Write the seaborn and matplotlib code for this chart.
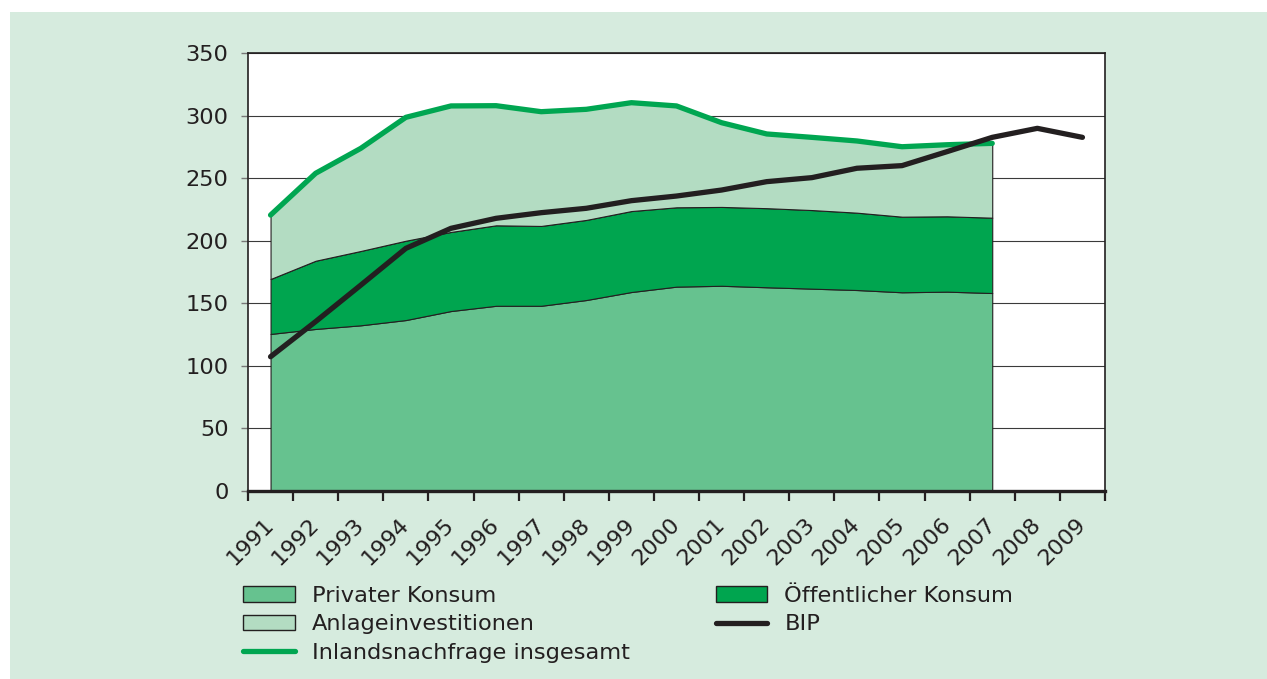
import numpy as np
import pandas as pd
import matplotlib
matplotlib.use("Agg")
import matplotlib.pyplot as plt
import matplotlib.transforms as mtransforms
from matplotlib.patches import Patch, Rectangle
from matplotlib.lines import Line2D
import seaborn as sns

# data (index values)
years = list(range(1991, 2010))
privat = [125.5, 129.5, 132.4, 136.6, 143.8, 148.0, 148.0, 152.6, 159.0,
          163.3, 164.0, 162.8, 161.7, 160.6, 158.8, 159.3, 158.2]
oeffentlich = [43.9, 54.5, 59.4, 63.4, 63.2, 64.3, 63.8, 64.0, 64.7,
               63.4, 63.0, 63.2, 62.8, 61.8, 60.4, 60.2, 60.2]
anlage = [51.1, 69.9, 82.0, 98.6, 100.7, 95.6, 91.3, 88.4, 86.6,
          81.0, 67.3, 59.3, 58.1, 57.3, 55.9, 57.2, 59.4]
bip = [107.3, 135.4, 164.5, 193.9, 209.9, 217.9, 222.4, 225.9, 232.0, 235.7,
       240.5, 247.2, 250.4, 257.9, 260.0, 271.2, 282.6, 289.8, 282.6]

labels = ["Privater Konsum", "Anlageinvestitionen", "Inlandsnachfrage insgesamt",
          "Öffentlicher Konsum", "BIP"]

c_bg = "#d6ebde"
c_priv = "#66c28f"
c_oeff = "#00a54f"
c_anl = "#b3dcc2"
c_line = "#00a651"
c_dark = "#231f20"

sns.set_theme(style="white")
plt.rcParams["font.family"] = ["DejaVu Sans"]

df = pd.DataFrame({"pos": np.arange(len(privat)), "privat": privat,
                   "oeff": oeffentlich, "anlage": anlage})
df["s1"] = df["privat"]
df["s2"] = df["s1"] + df["oeff"]
df["s3"] = df["s2"] + df["anlage"]
df_bip = pd.DataFrame({"pos": np.arange(len(bip)), "bip": bip})

fig = plt.figure(figsize=(12.67, 6.79), dpi=100, facecolor="white")
fig.patches.append(Rectangle((10 / 1267, 0), 1, 1 - 12 / 679, transform=fig.transFigure,
                             facecolor=c_bg, edgecolor="none", zorder=-10))
ax = fig.add_axes([248 / 1267, 1 - 491 / 679, (1105 - 248) / 1267, (491 - 53) / 679])
ax.set_facecolor("white")
ax.set_axisbelow(True)

ax.fill_between(df["pos"], 0, df["s1"], facecolor=c_priv, edgecolor=c_dark, linewidth=0.8, zorder=2)
ax.fill_between(df["pos"], df["s1"], df["s2"], facecolor=c_oeff, edgecolor=c_dark, linewidth=0.8, zorder=2)
ax.fill_between(df["pos"], df["s2"], df["s3"], facecolor=c_anl, edgecolor=c_dark, linewidth=0.8, zorder=2)

sns.lineplot(data=df, x="pos", y="s3", ax=ax, color=c_line, linewidth=3.8,
             solid_capstyle="round", legend=False, zorder=3)
sns.lineplot(data=df_bip, x="pos", y="bip", ax=ax, color=c_dark, linewidth=3.8,
             solid_capstyle="round", legend=False, zorder=4)

ax.set_xlim(-0.5, len(years) - 0.5)
ax.set_ylim(0, 350)
ax.set_yticks(range(0, 351, 50))
ax.set_xlabel("")
ax.set_ylabel("")
ax.yaxis.grid(True, color="#3a3a3a", linewidth=0.8)
ax.xaxis.grid(False)

ax.set_xticks(np.arange(-0.5, len(years), 1))
ax.set_xticklabels([])
ax.set_xticks(np.arange(len(years)), minor=True)
ax.set_xticklabels([str(y) for y in years], minor=True, rotation=45,
                   ha="right", va="top", rotation_mode="anchor")
ax.tick_params(axis="x", which="major", direction="out", length=7.5, width=1.6,
               color=c_dark, bottom=True)
ax.tick_params(axis="x", which="minor", length=0, pad=17, labelsize=16.2, labelcolor=c_dark)
ax.tick_params(axis="y", direction="out", length=5, width=1, color="#777777",
               pad=9, labelsize=16.2, labelcolor=c_dark, left=True)
offset = mtransforms.ScaledTranslation(-7 / 100, 0, fig.dpi_scale_trans)
for lab in ax.xaxis.get_minorticklabels():
    lab.set_transform(lab.get_transform() + offset)

for side in ["top", "left", "right"]:
    ax.spines[side].set_color(c_dark)
    ax.spines[side].set_linewidth(1.2)
ax.spines["bottom"].set_color(c_dark)
ax.spines["bottom"].set_linewidth(2.4)

handles = [
    Patch(facecolor=c_priv, edgecolor=c_dark, linewidth=1),
    Patch(facecolor=c_anl, edgecolor=c_dark, linewidth=1),
    Line2D([], [], color=c_line, linewidth=3.8),
    Patch(facecolor=c_oeff, edgecolor=c_dark, linewidth=1),
    Line2D([], [], color=c_dark, linewidth=3.8),
]
leg = fig.legend(handles, labels, ncol=2, loc="upper left",
                 bbox_to_anchor=(243 / 1267, 1 - 586 / 679), frameon=False,
                 fontsize=16.2, borderpad=0, borderaxespad=0, handlelength=2.3,
                 handleheight=0.67, handletextpad=0.75, columnspacing=3.83,
                 labelspacing=0.37)
for t in leg.get_texts():
    t.set_color(c_dark)

fig.savefig("out.png", dpi=100, facecolor=fig.get_facecolor())
